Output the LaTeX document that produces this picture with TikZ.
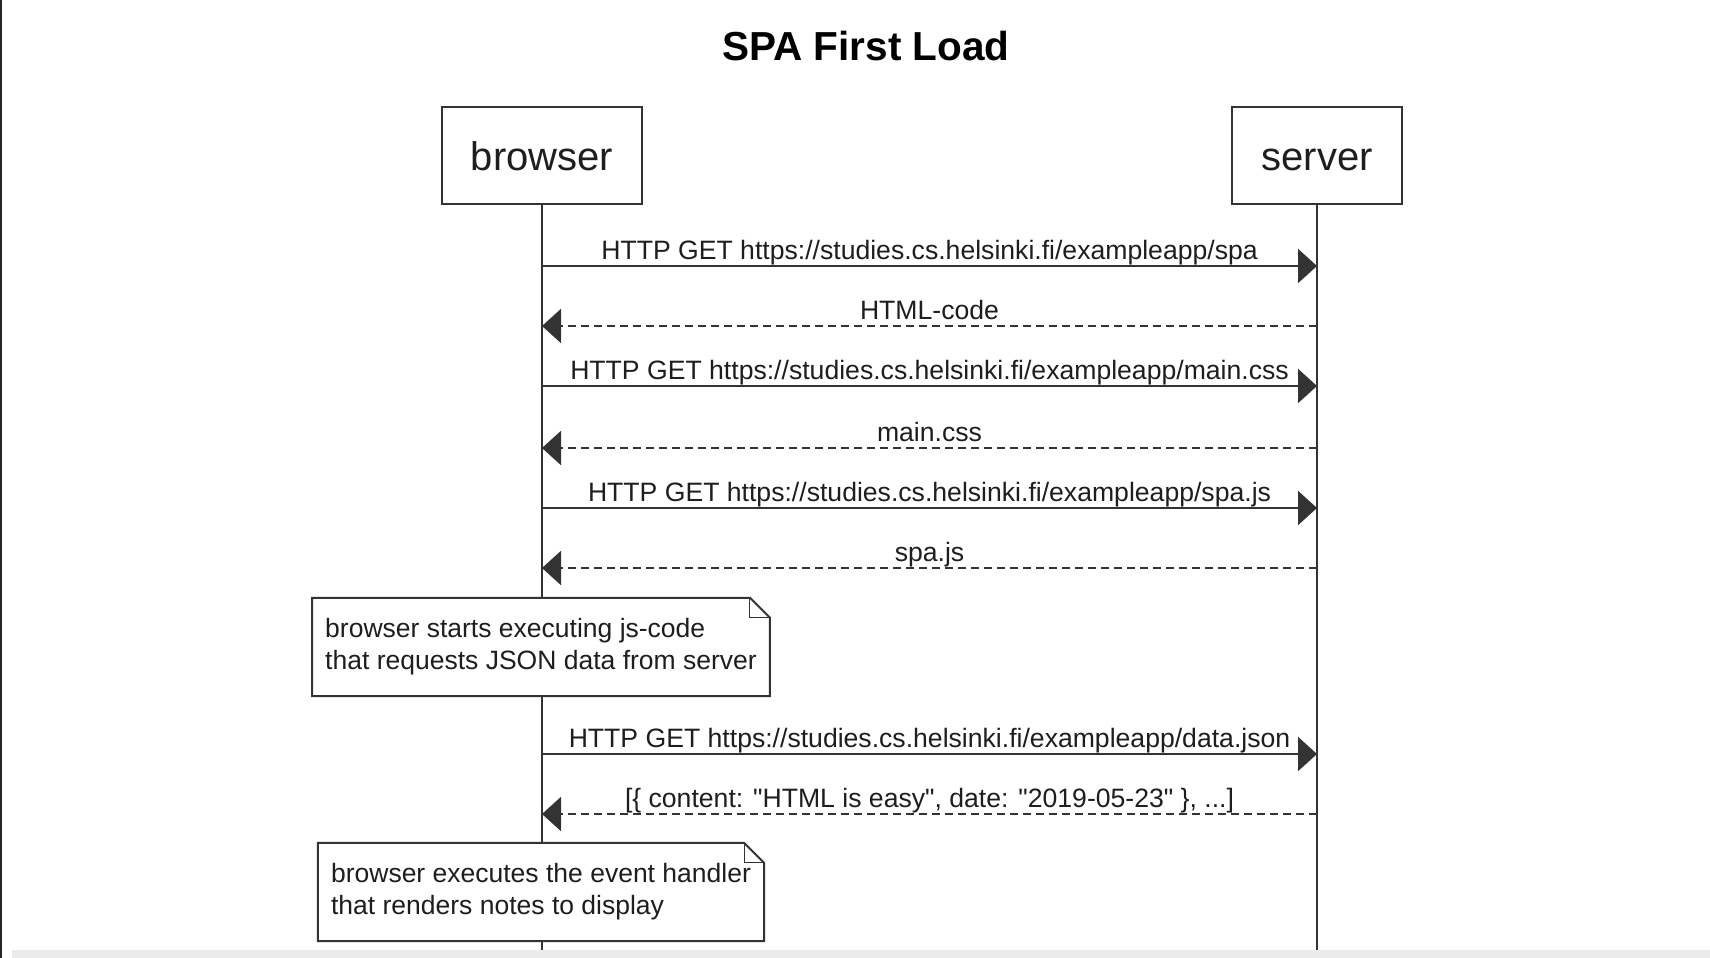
\documentclass[tikz,border=0pt]{standalone}
\usepackage{fontspec}
\setmainfont{Liberation Sans}
\usetikzlibrary{positioning, arrows.meta}
\definecolor{ink}{HTML}{333333}
\definecolor{txt}{HTML}{1E1E1E}

\begin{document}
\begin{tikzpicture}[x=1pt, y=-1pt,
    actor/.style={rectangle, draw=ink, line width=2pt, fill=white, minimum height=97pt, inner xsep=29pt, text height=30pt, text depth=0pt, text=txt, font=\fontsize{40}{47}\selectfont},
    life/.style={draw=ink, line width=2pt},
    call/.style={draw=ink, line width=2pt, -{Triangle[length=19pt, width=34pt]}},
    reply/.style={call, dash pattern=on 8pt off 5pt},
    lbl/.style={midway, anchor=base, yshift=7pt, inner sep=0pt, text=txt, font=\fontsize{26.6}{32}\selectfont},
    note/.style={rectangle, fill=white, align=left, inner xsep=13pt, minimum height=98pt, text=txt, font=\fontsize{26.5}{32}\selectfont}
]
    \useasboundingbox[fill=white] (0,0) rectangle (1710,958);
    \fill[black!85] (0,0) rectangle (2,958);
    \fill[black!8] (12,950) rectangle (1710,958);

    \node[anchor=base, font=\bfseries\fontsize{40.5}{48}\selectfont] (title) at (866,60) {SPA First Load};

    \node[actor] (browser) at (542,155.5) {browser};
    \node[actor] (server) at (1317,155.5) {server};
    \coordinate (b-end) at (542,950);
    \coordinate (s-end) at (1317,950);
    \draw[life] (browser) -- (b-end);
    \draw[life] (server) -- (s-end);

    % message rows on both lifelines
    \foreach \i/\y in {1/266, 2/326, 3/386, 4/448, 5/508, 6/568, 7/754, 8/814} {
        \path (browser |- 0,\y) coordinate (b\i);
        \path (server |- 0,\y) coordinate (s\i);
    }

    \draw[call] (b1) -- node[lbl] {HTTP GET https://studies.cs.helsinki.fi/exampleapp/spa} (s1);
    \draw[reply] (s2) -- node[lbl] {HTML-code} (b2);
    \draw[call] (b3) -- node[lbl] {HTTP GET https://studies.cs.helsinki.fi/exampleapp/main.css} (s3);
    \draw[reply] (s4) -- node[lbl] {main.css} (b4);
    \draw[call] (b5) -- node[lbl] {HTTP GET https://studies.cs.helsinki.fi/exampleapp/spa.js} (s5);
    \draw[reply] (s6) -- node[lbl] {spa.js} (b6);
    \draw[call] (b7) -- node[lbl] {HTTP GET https://studies.cs.helsinki.fi/exampleapp/data.json} (s7);
    \draw[reply] (s8) -- node[lbl] {[\{ content: \textquotedbl HTML is easy\textquotedbl, date: \textquotedbl 2019-05-23\textquotedbl\ \}, ...]} (b8);

    \node[note] (n1) at (541,647) {browser starts executing js-code\\that requests JSON data from server};
    \node[note] (n2) at (541,892) {browser executes the event handler\\that renders notes to display};

    % dog-eared outlines
    \foreach \n in {n1, n2} {
        \draw[ink, line width=2pt, line join=miter] (\n.south west) -- (\n.north west) -- ([xshift=-20pt]\n.north east)
            -- ([yshift=-20pt]\n.north east) -- (\n.south east) -- cycle;
        \draw[ink, line width=1pt] ([xshift=-20pt]\n.north east) |- ([yshift=-20pt]\n.north east);
    }

\end{tikzpicture}
\end{document}
